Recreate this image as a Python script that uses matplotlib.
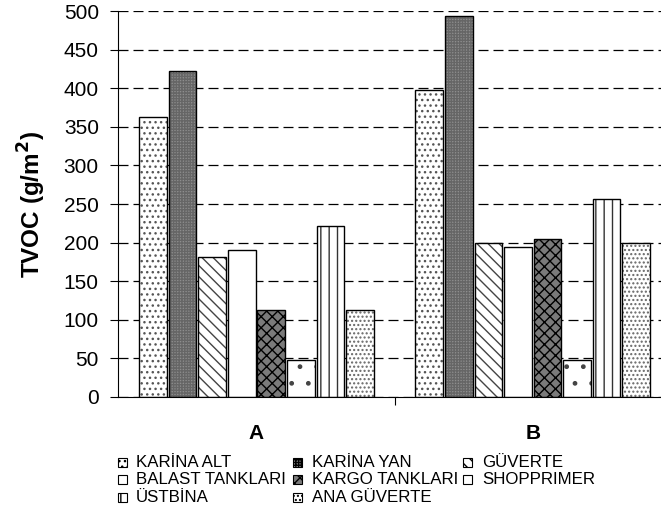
import numpy as np
import matplotlib.pyplot as plt
from matplotlib.patches import Rectangle

plt.rcParams['font.family'] = ['Liberation Sans', 'DejaVu Sans']
plt.rcParams['hatch.linewidth'] = 1.0

# Data
groups = ['A', 'B']
series = ['KARİNA ALT', 'KARİNA YAN', 'GÜVERTE', 'BALAST TANKLARI',
          'KARGO TANKLARI', 'SHOPPRIMER', 'ÜSTBİNA', 'ANA GÜVERTE']
values_a = [363, 422, 181, 191, 113, 48, 222, 113]
values_b = [398, 494, 199, 194, 205, 48, 256, 199]

# fill style per series: (facecolor, hatch, hatch colour)
styles = [
    ('white', '...', '#555555'),
    ('#8e8e8e', '++++++', '#666666'),
    ('white', '\\\\\\', '#444444'),
    ('white', '', '#444444'),
    ('#7a7a7a', 'xxx', 'black'),
    ('white', '.', '#444444'),
    ('white', '||', '#333333'),
    ('white', '....', '#666666'),
]

fig = plt.figure(figsize=(6.61, 5.30), dpi=100)
ax = fig.add_axes([0.179, 0.251, 0.836, 0.728])

x = np.arange(len(groups))
slot = 0.107
width = 0.1
n = len(series)
vals = np.array([values_a, values_b]).T

for i, name in enumerate(series):
    pos = x + (i - (n - 1) / 2) * slot
    fc, hatch, hc = styles[i]
    ax.bar(pos, vals[i], width, color=fc, hatch=hatch, edgecolor=hc,
           linewidth=0, zorder=2)
    ax.bar(pos, vals[i], width, fill=False, edgecolor='black',
           linewidth=1.0, zorder=3)

ax.set_ylim(0, 500)
ax.set_xlim(-0.5, 1.5)
ax.set_yticks(np.arange(0, 501, 50))
ax.yaxis.grid(True, linestyle=(0, (8, 4)), color='black', linewidth=0.9)
ax.set_axisbelow(True)
ax.tick_params(axis='y', labelsize=15, direction='out', length=6, width=0.8,
               pad=8)

ax.set_xticks([0.5])
ax.set_xticklabels([''])
ax.tick_params(axis='x', direction='out', length=6, width=0.8)
for xi, g in zip(x, groups):
    ax.text(xi, -0.095, g, transform=ax.get_xaxis_transform(), ha='center',
            va='center', fontsize=15, fontweight='bold')

ax.spines['top'].set_visible(False)
ax.spines['right'].set_visible(False)
ax.set_ylabel('TVOC (g/m$^\\mathbf{2}$)', fontsize=17.5, fontweight='bold',
              labelpad=11)

# legend drawn by hand, three entries per row
col_x = [0.178, 0.444, 0.701]
row_y = [0.128, 0.095, 0.062]
box = 0.0135
for i, name in enumerate(series):
    r, c = divmod(i, 3)
    fc, hatch, hc = styles[i]
    bx = col_x[c]
    by = row_y[r]
    fig.patches.append(Rectangle((bx, by - box * 661 / 530 / 2), box,
                                 box * 661 / 530, transform=fig.transFigure,
                                 facecolor=fc, hatch=hatch, edgecolor='black',
                                 linewidth=0.8, figure=fig))
    fig.text(bx + 0.028, by, name, fontsize=12.2, ha='left', va='center')

fig.savefig('out.png', dpi=100)
